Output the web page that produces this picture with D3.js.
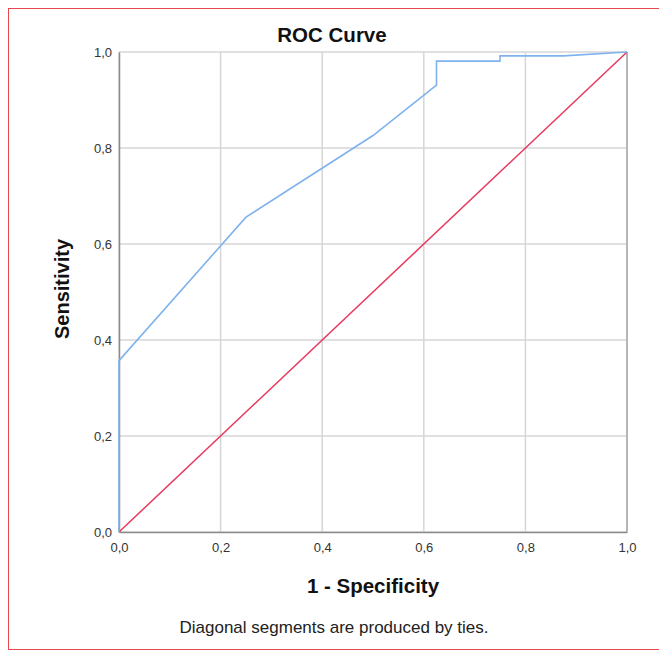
<!DOCTYPE html>
<html>
<head>
    <meta charset="utf-8">
    <style>
        body { margin: 0; background: #fff; }
        svg { display: block; font-family: Arial, "Liberation Sans", Helvetica, sans-serif; }
    </style>
</head>
<body>
    <svg width="659" height="651"></svg>

<script src="https://d3js.org/d3.v7.min.js"></script>
<script>
    // ROC curve points
    let fpr = [0, 0, 0.25, 0.5, 0.625, 0.625, 0.75, 0.75, 0.875, 1]
    let tpr = [0, 0.357, 0.656, 0.826, 0.931, 0.981, 0.981, 0.992, 0.992, 1]
    let refX = [0, 1]
    let refY = [0, 1]
    let ticks = [0, 0.2, 0.4, 0.6, 0.8, 1]

    let svg = d3.select("svg")

    // red outer frame
    svg.append("rect")
        .attr("x", 8.5).attr("y", 8.5)
        .attr("width", 660).attr("height", 641)
        .style("fill", "none")
        .style("stroke", "#e8474f")
        .style("stroke-width", 1)

    let x = d3.scaleLinear().domain([0, 1]).range([119, 627])
    let y = d3.scaleLinear().domain([0, 1]).range([532, 52])

    let fmt = d => d3.format(".1f")(d).replace(".", ",")

    // gridlines
    svg.append("g")
        .selectAll("line")
        .data(ticks)
        .join("line")
        .attr("x1", d => x(d)).attr("x2", d => x(d))
        .attr("y1", y(0)).attr("y2", y(1))
        .style("stroke", "#d6d6d6")
        .style("stroke-width", 1.5)

    svg.append("g")
        .selectAll("line")
        .data(ticks)
        .join("line")
        .attr("x1", x(0)).attr("x2", x(1))
        .attr("y1", d => y(d)).attr("y2", d => y(d))
        .style("stroke", "#d6d6d6")
        .style("stroke-width", 1.5)

    // axes
    let xAxis = svg.append("g")
        .attr("transform", `translate(0,${y(0)})`)
        .call(d3.axisBottom(x).tickValues(ticks).tickFormat(fmt).tickSize(0).tickPadding(11))
    let yAxis = svg.append("g")
        .attr("transform", `translate(${x(0)},0)`)
        .call(d3.axisLeft(y).tickValues(ticks).tickFormat(fmt).tickSize(0).tickPadding(7))

    ;[xAxis, yAxis].forEach(a => {
        a.select(".domain").style("stroke", "#8c8c8c").style("stroke-width", 1.5)
        a.selectAll("text")
            .style("font-size", "13px")
            .style("fill", "#333")
            .style("font-family", "Arial, 'Liberation Sans', sans-serif")
    })

    // right frame line
    svg.append("line")
        .attr("x1", x(1)).attr("x2", x(1))
        .attr("y1", y(0)).attr("y2", y(1))
        .style("stroke", "#a8a8a8")
        .style("stroke-width", 1.5)

    // reference diagonal
    let line = d3.line()
        .x(d => x(d[0]))
        .y(d => y(d[1]))

    svg.append("path")
        .datum(d3.zip(refX, refY))
        .attr("d", line)
        .style("fill", "none")
        .style("stroke", "#e8385e")
        .style("stroke-width", 1.5)

    svg.append("path")
        .datum(d3.zip(fpr, tpr))
        .attr("d", line)
        .style("fill", "none")
        .style("stroke", "#7fb2ee")
        .style("stroke-width", 1.6)

    // titles
    svg.append("text")
        .attr("x", 332).attr("y", 42)
        .attr("text-anchor", "middle")
        .style("font-size", "20.5px")
        .style("font-weight", "bold")
        .style("fill", "#111")
        .text("ROC Curve")

    svg.append("text")
        .attr("x", 373).attr("y", 593)
        .attr("text-anchor", "middle")
        .style("font-size", "20.5px")
        .style("font-weight", "bold")
        .style("fill", "#111")
        .text("1 - Specificity")

    svg.append("text")
        .attr("transform", `translate(69,289) rotate(-90)`)
        .attr("text-anchor", "middle")
        .style("font-size", "20px")
        .style("font-weight", "bold")
        .style("fill", "#111")
        .text("Sensitivity")

    svg.append("text")
        .attr("x", 334).attr("y", 633)
        .attr("text-anchor", "middle")
        .style("font-size", "17px")
        .style("fill", "#222")
        .text("Diagonal segments are produced by ties.")
</script>
</body>
</html>
